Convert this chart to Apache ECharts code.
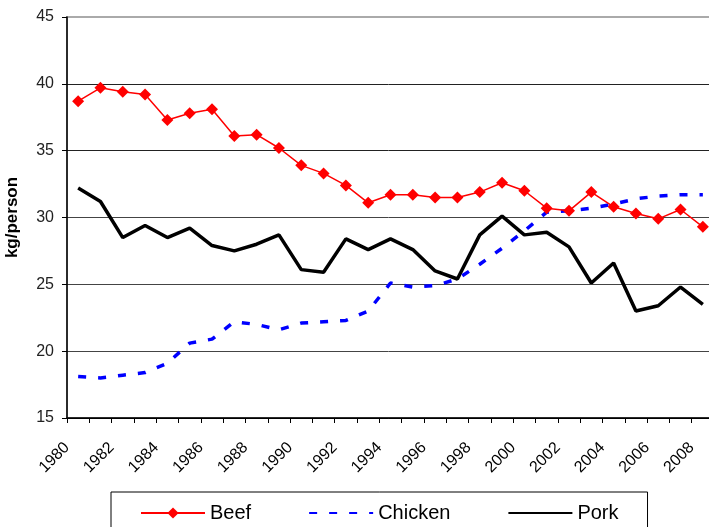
<!DOCTYPE html>
<html>
<head>
<meta charset="utf-8">
<script src="https://cdn.jsdelivr.net/npm/echarts@6/dist/echarts.min.js"></script>
<style>
html,body{margin:0;padding:0;background:#fff;}
#meatChart{width:709px;height:527px;}
</style>
</head>
<body>
<div id="meatChart"></div>
<script>
//数据定义
var years=['1980','1981','1982','1983','1984','1985','1986','1987','1988','1989',
	'1990','1991','1992','1993','1994','1995','1996','1997','1998','1999',
	'2000','2001','2002','2003','2004','2005','2006','2007','2008'];
var beef=[38.7,39.7,39.4,39.2,37.3,37.8,38.1,36.1,36.2,35.2,33.9,33.3,32.4,31.1,31.7,
	31.7,31.5,31.5,31.9,32.6,32.0,30.7,30.5,31.9,30.8,30.3,29.9,30.6,29.3];
var chicken=[18.1,18.0,18.2,18.4,19.1,20.6,20.9,22.2,22.0,21.6,22.1,22.2,22.3,23.0,25.1,
	24.8,24.9,25.4,26.5,27.7,29.0,30.4,30.5,30.7,31.0,31.4,31.6,31.7,31.7];
var pork=[32.2,31.2,28.5,29.4,28.5,29.2,27.9,27.5,28.0,28.7,26.1,25.9,28.4,27.6,28.4,
	27.6,26.0,25.4,28.7,30.1,28.7,28.9,27.8,25.1,26.6,23.0,23.4,24.8,23.5];
var yearFirst=1980,yearLast=2009;//刻度标签用的年份范围
var fontName='"Liberation Sans", Arial, sans-serif';

var meatChart=null,meatOption=null;
function loadMeatChart(){
	meatChart=echarts.init(document.getElementById('meatChart'));
	meatOption={
		backgroundColor:'#fff',
		animation:false,
		textStyle:{fontFamily:fontName},
		grid:{
			left:67,
			top:17,
			right:-5,
			bottom:109,
			outerBoundsMode:'none',//不让标签挤动绘图区
			show:true,
			borderColor:'#aaa',
			borderWidth:2
		},
		legend:{
			left:111,
			top:492,
			padding:[11,29,20,29],
			borderColor:'#000',
			borderWidth:1,
			itemWidth:64,
			itemHeight:14,
			itemGap:57,
			textStyle:{fontSize:20,color:'#000',fontFamily:fontName},
			// 没有标记的线，图例里也不画圆点
			data:[
				{name:'Beef'},
				{name:'Chicken',itemStyle:{opacity:0}},
				{name:'Pork',itemStyle:{opacity:0}}
			]
		},
		xAxis:[{
			//数据用的类目轴，不显示
			type:'category',
			data:years,
			boundaryGap:true,
			show:false
		},{
			//年份刻度和标签
			type:'value',
			min:yearFirst,
			max:yearLast,
			interval:1,
			position:'bottom',
			axisLine:{show:true,lineStyle:{color:'#000',width:1.5}},
			axisTick:{show:true,length:5,lineStyle:{color:'#000',width:1}},
			splitLine:{show:false},
			axisLabel:{
				rotate:45,
				margin:27,
				fontSize:16,
				color:'#000',
				fontFamily:fontName,
				showMaxLabel:false,
				formatter:function(v){
					return (v%2===0)?String(v):'';
				}
			}
		}],
		yAxis:{
			type:'value',
			min:15,
			max:45,
			interval:5,
			name:'kg/person',
			nameLocation:'middle',
			nameGap:46,
			nameTextStyle:{fontSize:17,fontWeight:'bold',color:'#000',fontFamily:fontName},
			axisLine:{show:true,lineStyle:{color:'#000',width:1.5}},
			axisTick:{show:true,length:5,lineStyle:{color:'#000',width:1}},
			axisLabel:{margin:13,fontSize:16,color:'#222',fontFamily:fontName},
			splitLine:{show:true,lineStyle:{color:['#000','#444','#444','#444','#222','#222','#aaa'],width:1}}
		},
		series:[{
			name:'Beef',
			type:'line',
			data:beef,
			symbol:'diamond',
			symbolSize:12,
			itemStyle:{color:'#ff0000'},
			lineStyle:{color:'#ff0000',width:1.5},
			z:4
		},{
			name:'Chicken',
			type:'line',
			data:chicken,
			symbol:'none',
			itemStyle:{color:'#0000ff'},
			lineStyle:{color:'#0000ff',width:3.5,type:[8,12]},
			z:3
		},{
			name:'Pork',
			type:'line',
			data:pork,
			symbol:'none',
			itemStyle:{color:'#000'},
			lineStyle:{color:'#000',width:3.5},
			z:2
		}]
	};
	meatChart.setOption(meatOption);
}
loadMeatChart();
</script>
</body>
</html>
